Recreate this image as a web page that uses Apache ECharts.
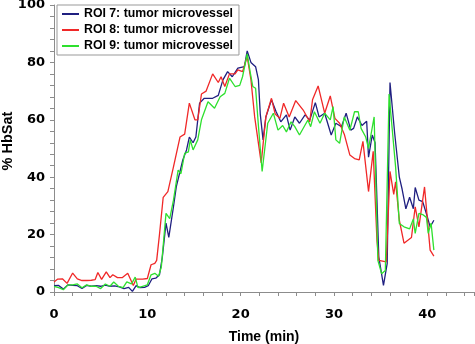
<!DOCTYPE html>
<html>
<head>
<meta charset="utf-8">
<script src="https://cdn.jsdelivr.net/npm/echarts@6.0.0/dist/echarts.min.js"></script>
<style>
  html, body { margin: 0; padding: 0; background: #fff; }
  #chart { width: 475px; height: 344px; }
</style>
</head>
<body>
<div id="chart"></div>
<script>
// time (min), %HbSat pairs
var roi7 = [[0,2.2],[0.5,2.3],[1.0,1.0],[1.5,2.5],[2.0,2.3],[2.5,2.2],[3.0,1.2],[3.5,2.3],[4.0,2.0],[4.5,2.2],[5.0,2.0],[5.5,2.4],[6.0,2.0],[6.5,2.1],[7.0,1.8],[7.5,1.2],[8.0,1.6],[8.4,0.2],[8.8,2.2],[9.2,1.5],[9.7,1.6],[10.1,2.2],[10.5,4.6],[10.9,4.8],[11.3,6.0],[11.6,12],[12.0,24],[12.3,19],[12.8,29.7],[13.1,36.6],[13.8,46],[14.2,49.5],[14.5,54],[14.9,52],[15.2,54],[15.6,65.8],[16.1,67.5],[16.6,67.5],[17.0,67.5],[17.6,68.5],[18.1,73.9],[18.6,76.8],[19.1,75],[19.7,78],[20.4,78.5],[20.7,84],[21.1,80],[21.6,78.5],[21.9,74],[22.1,62],[22.4,53],[22.7,61],[23.3,67],[23.8,62.8],[24.3,59.3],[24.9,61.7],[25.3,56.4],[25.8,61],[26.3,58.8],[26.9,61.7],[27.4,59.9],[28.0,66],[28.4,61],[29.0,62.3],[29.7,54.7],[30.2,58.8],[30.8,57.6],[31.3,62.3],[31.8,56.4],[32.1,57],[32.5,61],[33.0,58],[33.5,59.5],[33.7,47],[34.1,54.7],[34.4,52],[34.8,12.2],[35.3,2.3],[35.7,10],[36.0,73],[36.5,55.3],[37.0,40],[37.3,35.8],[37.7,29],[38.1,33],[38.5,29],[38.7,36.4],[39.1,32],[39.5,31.5],[40.0,26.2],[40.3,22.7],[40.7,25]];

var roi8 = [[0,3.5],[0.4,4.5],[0.9,4.6],[1.4,3.0],[2.0,6.6],[2.5,4.6],[3.0,4.0],[3.5,4.0],[4.0,4.1],[4.4,4.3],[4.7,6.8],[5.1,4.4],[5.6,7.0],[6.0,5.0],[6.3,6.0],[6.8,5.0],[7.3,5.0],[7.9,6.5],[8.5,2.3],[8.8,4.5],[9.5,4.5],[10.0,4.7],[10.4,9.5],[10.8,10],[11.0,11],[11.3,20],[11.7,33],[12.2,35],[12.8,43.6],[13.5,54],[14.0,55],[14.5,65.8],[15.1,60],[15.4,60],[15.8,69],[16.3,70],[17.0,76],[17.6,73],[17.9,75],[18.3,71.6],[18.8,76],[19.4,76],[19.7,77.4],[20.2,76.8],[20.7,82],[21.1,74],[21.5,61],[22.2,45],[22.7,61],[23.3,67.5],[23.7,62],[24.2,60.5],[24.6,65.8],[25.2,61],[25.9,66.7],[26.7,63.4],[27.4,59.3],[27.7,67],[28.3,71.8],[29.0,62.3],[29.6,68.3],[30.1,60.5],[30.6,58.8],[31.1,55],[31.7,47.7],[32.2,46.5],[32.7,46],[33.1,52.5],[33.7,35],[34.2,49],[34.6,18],[34.8,11],[35.6,10.5],[36.0,42],[36.4,34],[36.6,38.4],[37.0,25],[37.5,17],[38.3,19],[38.7,29.7],[39.1,22.7],[39.7,36.6],[40.3,14.6],[40.7,12.5]];

var roi9 = [[0,2.0],[0.5,1.5],[1.0,0.8],[1.5,2.5],[2.0,2.5],[2.5,2.8],[3.0,1.5],[3.5,2.5],[4.0,2.0],[4.5,2.0],[5.0,1.2],[5.5,2.8],[6.0,2.0],[6.4,3.5],[6.9,2.0],[7.4,1.5],[7.8,3.5],[8.3,2.8],[8.7,5.2],[9.0,1.5],[9.5,2.0],[10.0,2.5],[10.4,6.0],[10.8,6.5],[11.2,5.5],[11.5,8.7],[12.0,27.4],[12.4,25.6],[12.8,32],[13.3,42.5],[13.6,41.2],[14.0,48.3],[14.4,48.8],[14.6,53],[14.9,49.5],[15.4,53],[15.8,60],[16.5,66.3],[17.2,64],[17.8,68],[18.3,69.2],[18.8,74.5],[19.4,71.6],[19.9,72],[20.2,75],[20.7,83],[21.0,77],[21.3,71.6],[21.6,71],[21.9,58],[22.3,42],[22.9,58.8],[23.5,62.3],[24.0,56.4],[24.5,58],[24.9,55.8],[25.4,59.3],[25.8,57.6],[26.3,54.7],[26.9,58.2],[27.2,59.9],[27.5,57.6],[27.9,62.8],[28.5,58.8],[29.0,62.3],[29.6,60],[29.9,64.6],[30.2,53],[30.6,51.8],[31.1,61],[31.7,56.4],[32.2,62.8],[32.6,62.8],[32.9,57],[33.4,54],[33.7,50],[34.3,61],[34.7,11],[35.1,6.4],[35.5,7.5],[35.9,69],[36.6,43.6],[37.0,23.9],[37.5,22.7],[38.1,22],[38.5,25.4],[38.7,20.4],[39.1,27.4],[39.5,27],[39.9,26],[40.1,20.4],[40.4,24],[40.7,14.6]];

var seriesNames = ['ROI 7: tumor microvessel', 'ROI 8: tumor microvessel', 'ROI 9: tumor microvessel'];
var seriesColors = ['#1f1f80', '#f02828', '#2ee02e'];
var xLabels = [0, 10, 20, 30, 40];
var yLabels = [0, 20, 40, 60, 80, 100];
var yTitle = '% HbSat';

var font = 'Arial, "Liberation Sans", sans-serif';
var wideFont = '"DejaVu Sans", Arial, sans-serif';
var axisGray = '#8c8c8c';

var chart = echarts.init(document.getElementById('chart'));

function makeSeries(name, data, color) {
  return {
    name: name,
    type: 'line',
    data: data,
    symbol: 'none',
    smooth: false,
    lineStyle: { color: color, width: 1.3 },
    itemStyle: { color: color }
  };
}

chart.setOption({
  animation: false,
  backgroundColor: '#fff',
  grid: { left: 54, right: 1, top: 5, bottom: 52, outerBoundsMode: 'none', containLabel: false },
  legend: {
    orient: 'vertical',
    left: 57,
    top: 5,
    padding: [3, 6, 3, 5],
    itemGap: 4,
    itemWidth: 17,
    itemHeight: 2,
    icon: 'rect',
    borderColor: '#999',
    borderWidth: 1,
    backgroundColor: '#fff',
    textStyle: { fontFamily: font, fontWeight: 'bold', fontSize: 12.3, color: '#000', padding: [1, 0, 0, 0] },
    data: seriesNames
  },
  graphic: [{
    type: 'text',
    x: 8,
    y: 141,
    rotation: Math.PI / 2,
    style: {
      text: yTitle,
      align: 'center',
      verticalAlign: 'middle',
      font: 'bold 14.5px Arial, "Liberation Sans", sans-serif',
      fill: '#000'
    }
  }],
  xAxis: {
    type: 'value',
    min: 0,
    max: 45,
    interval: 2,
    name: 'Time (min)',
    nameLocation: 'middle',
    nameGap: 38,
    nameTextStyle: { fontFamily: font, fontWeight: 'bold', fontSize: 14, color: '#000' },
    axisLine: { show: true, lineStyle: { color: axisGray, width: 1 } },
    axisTick: { show: true, length: 4, lineStyle: { color: axisGray } },
    splitLine: { show: false },
    axisLabel: {
      margin: 16,
      fontFamily: wideFont, fontWeight: 'bold', fontSize: 13, color: '#000',
      formatter: function (v) { return xLabels.indexOf(v) >= 0 ? String(v) : ''; }
    }
  },
  yAxis: {
    type: 'value',
    min: 0,
    max: 100,
    interval: 4,
    axisLine: { show: true, lineStyle: { color: axisGray, width: 1 } },
    axisTick: { show: true, length: 4, lineStyle: { color: axisGray } },
    splitLine: { show: false },
    axisLabel: {
      margin: 9,
      fontFamily: wideFont, fontWeight: 'bold', fontSize: 13, color: '#000',
      formatter: function (v) { return yLabels.indexOf(v) >= 0 ? String(v) : ''; }
    }
  },
  series: [
    makeSeries(seriesNames[0], roi7, seriesColors[0]),
    makeSeries(seriesNames[1], roi8, seriesColors[1]),
    makeSeries(seriesNames[2], roi9, seriesColors[2])
  ]
});
</script>
</body>
</html>
